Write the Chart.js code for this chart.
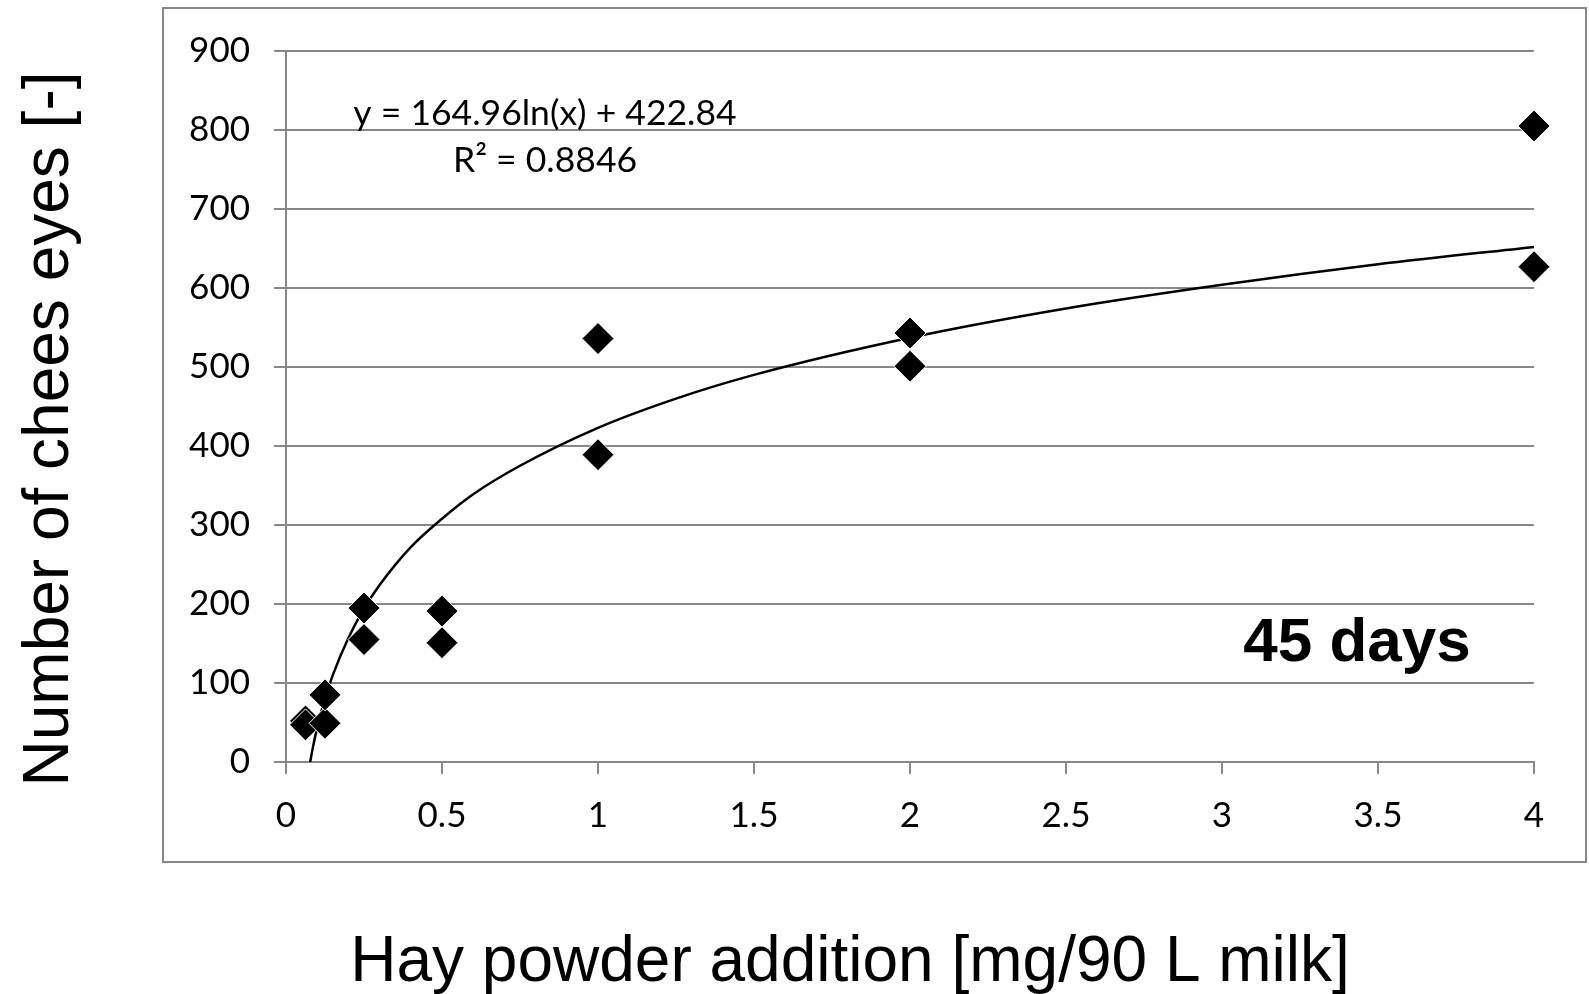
<!DOCTYPE html>
<html>
<head>
<meta charset="utf-8">
<script src="https://cdn.jsdelivr.net/npm/chart.js@4.4.1/dist/chart.umd.min.js"></script>
<style>
  html, body { margin: 0; padding: 0; background: #fff; }
  #wrap { width: 1589px; height: 994px; }
</style>
</head>
<body>
<div id="wrap"><canvas id="chart" width="1589" height="994"></canvas></div>
<script>
// measured points (hay powder dose vs number of cheese eyes)
const doses = [0.0625, 0.0625, 0.125, 0.125, 0.25, 0.25, 0.5, 0.5, 1, 1, 2, 2, 4, 4];
const eyes = [52, 47, 49, 85, 155, 195, 151, 191, 389, 536, 501, 543, 627, 805];

// log trend line
const trendX = [0.0774, 0.085, 0.095, 0.11, 0.125, 0.15, 0.2, 0.25, 0.3, 0.4, 0.5, 0.6, 0.75, 1, 1.25, 1.5, 2, 2.5, 3, 3.5, 4];
const trendY = [0, 16, 35, 59, 80, 110, 157, 194, 224, 272, 308, 339, 375, 423, 460, 490, 537, 574, 604, 630, 652];

const eqText = 'y = 164.96ln(x) + 422.84';
const r2Text = 'R\u00B2 = 0.8846';
const dayLabel = '45 days';
const xTitle = 'Hay powder addition [mg/90 L milk]';
const yTitle = 'Number of chees eyes [-]';

const gray = '#878787';
const arial = '"Liberation Sans", Arial, sans-serif';

const decor = {
    id: 'decor',
    beforeDraw(chart) {
        const c = chart.ctx;
        c.save();
        c.fillStyle = '#fff';
        c.fillRect(0, 0, chart.width, chart.height);
        c.strokeStyle = gray;
        c.lineWidth = 2;
        c.strokeRect(163, 8, 1423, 854);
        c.restore();
    },
    afterDraw(chart) {
        const c = chart.ctx;
        c.save();
        c.fillStyle = '#000';
        c.textAlign = 'center';
        c.textBaseline = 'alphabetic';
        c.font = '35.5px Lato';
        c.fillText(eqText, 545, 125);
        c.fillText(r2Text, 545, 172);
        c.font = 'bold 62px ' + arial;
        c.fillText(dayLabel, 1357, 661);
        c.font = '64px ' + arial;
        c.fillText(xTitle, 850, 981);
        c.translate(68, 429);
        c.rotate(-Math.PI / 2);
        c.fillText(yTitle, 0, 0);
        c.restore();
    }
};

new Chart(document.getElementById('chart').getContext('2d'), {
    type: 'scatter',
    data: {
        datasets: [{
            label: 'eyes',
            data: doses.map((d, i) => ({x: d, y: eyes[i]})),
            pointStyle: 'rectRot',
            pointRadius: 16,
            pointHoverRadius: 16,
            backgroundColor: '#000',
            borderColor: '#fff',
            borderWidth: 1,
            clip: false
        }, {
            label: 'trend',
            data: trendX.map((d, i) => ({x: d, y: trendY[i]})),
            showLine: true,
            borderColor: '#000',
            borderWidth: 2.5,
            pointRadius: 0,
            cubicInterpolationMode: 'monotone'
        }]
    },
    options: {
        responsive: false,
        animation: false,
        devicePixelRatio: 1,
        layout: { padding: { left: 0, right: 55, top: 51, bottom: 0 } },
        plugins: { legend: { display: false }, tooltip: { enabled: false } },
        scales: {
            x: {
                type: 'linear',
                min: 0,
                max: 4,
                afterFit: s => { s.height = 232; },
                ticks: {
                    stepSize: 0.5, padding: 21, maxRotation: 0, color: '#000',
                    font: { family: 'Lato', size: 35 },
                    callback: v => String(v)
                },
                grid: { drawOnChartArea: false, tickLength: 12, color: gray, lineWidth: 2 },
                border: { color: gray, width: 2 }
            },
            y: {
                min: 0,
                max: 900,
                afterFit: s => { s.width = 286; },
                ticks: { stepSize: 100, padding: 24, color: '#000', font: { family: 'Lato', size: 35 } },
                grid: { tickLength: 12, color: gray, lineWidth: 2 },
                border: { color: gray, width: 2 }
            }
        }
    },
    plugins: [decor]
});
</script>
</body>
</html>
